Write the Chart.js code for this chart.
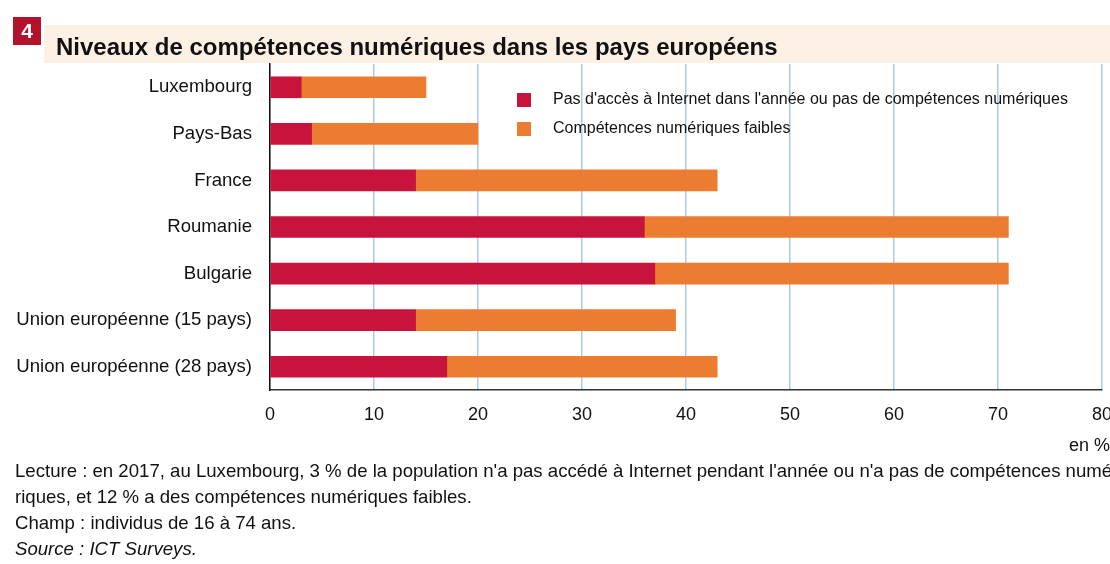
<!DOCTYPE html>
<html>
<head>
<meta charset="utf-8">
<script src="https://cdn.jsdelivr.net/npm/chart.js@4"></script>
<style>
  html, body { margin: 0; padding: 0; background: #fff; }
  #wrap { width: 1110px; height: 564px; position: relative; }
</style>
</head>
<body>
<div id="wrap"><canvas id="myChart" width="1110" height="564"></canvas></div>
<script>
// data (en %)
const countries = ['Luxembourg', 'Pays-Bas', 'France', 'Roumanie', 'Bulgarie',
  'Union européenne (15 pays)', 'Union européenne (28 pays)'];
const noAccess = [3, 4, 14, 36, 37, 14, 17];
const lowSkills = [12, 16, 29, 35, 34, 25, 26];
const xTicks = [0, 10, 20, 30, 40, 50, 60, 70, 80];
const seriesNames = [
  "Pas d'accès à Internet dans l'année ou pas de compétences numériques",
  'Compétences numériques faibles'
];
const titleText = 'Niveaux de compétences numériques dans les pays européens';
const noteLines = [
  "Lecture : en 2017, au Luxembourg, 3 % de la population n'a pas accédé à Internet pendant l'année ou n'a pas de compétences numé-",
  'riques, et 12 % a des compétences numériques faibles.',
  'Champ : individus de 16 à 74 ans.'
];
const sourceLine = 'Source : ICT Surveys.';

const RED = '#c8143c';
const ORANGE = '#ec7d30';
const FONT = '"Liberation Sans", Arial, sans-serif';

// title band, legend and footnotes drawn on the canvas
const decorations = {
  id: 'decorations',
  beforeDraw(chart) {
    const ctx = chart.ctx;
    ctx.save();
    ctx.fillStyle = '#fdf0e4';
    ctx.fillRect(44, 25, 1066, 38);
    ctx.restore();
  },
  afterDraw(chart) {
    const ctx = chart.ctx;
    ctx.save();
    // number box
    ctx.fillStyle = '#b3122d';
    ctx.fillRect(13, 17, 28, 28);
    ctx.fillStyle = '#fff';
    ctx.font = 'bold 21px ' + FONT;
    ctx.textAlign = 'center';
    ctx.textBaseline = 'middle';
    ctx.fillText('4', 27, 32);
    // title
    ctx.fillStyle = '#111';
    ctx.font = 'bold 24px ' + FONT;
    ctx.textAlign = 'left';
    ctx.textBaseline = 'alphabetic';
    ctx.fillText(titleText, 56, 55);

    // legend
    const colors = [RED, ORANGE];
    ctx.font = '16px ' + FONT;
    ctx.textBaseline = 'middle';
    seriesNames.forEach((name, i) => {
      const y = 100 + i * 29;
      ctx.fillStyle = colors[i];
      ctx.fillRect(517, y - 7, 14, 14);
      ctx.fillStyle = '#111';
      ctx.fillText(name, 553, y);
    });

    // unit
    ctx.font = '18px ' + FONT;
    ctx.textAlign = 'right';
    ctx.textBaseline = 'alphabetic';
    ctx.fillText('en %', 1110, 451);

    // notes
    ctx.font = '18.6px ' + FONT;
    ctx.textAlign = 'left';
    noteLines.forEach((line, i) => {
      ctx.fillText(line, 15, 477 + i * 26);
    });
    ctx.font = 'italic 18.6px ' + FONT;
    ctx.fillText(sourceLine, 15, 555);
    ctx.restore();
  }
};

const ctx = document.getElementById('myChart').getContext('2d');
window.myChart = new Chart(ctx, {
  type: 'bar',
  data: {
    labels: countries,
    datasets: [
      { label: seriesNames[0], data: noAccess, backgroundColor: RED, barThickness: 21 },
      { label: seriesNames[1], data: lowSkills, backgroundColor: ORANGE, barThickness: 21 }
    ]
  },
  options: {
    indexAxis: 'y',
    responsive: false,
    animation: false,
    layout: { padding: { top: 64, right: 8, left: 0, bottom: 0 } },
    plugins: {
      legend: { display: false },
      tooltip: { enabled: false }
    },
    scales: {
      x: {
        stacked: true,
        min: 0,
        max: 80,
        afterBuildTicks: (scale) => {
          scale.ticks = xTicks.map((v) => ({ value: v }));
        },
        afterFit: (scale) => {
          scale.height = 174;
          scale.paddingLeft = 0;
          scale.paddingRight = 0;
        },
        grid: { color: '#a9cbe8', lineWidth: 1.5, drawTicks: false },
        border: { color: '#333', width: 1.5 },
        ticks: {
          color: '#111',
          font: { family: FONT, size: 18 },
          padding: 14,
          maxRotation: 0
        }
      },
      y: {
        stacked: true,
        afterFit: (scale) => { scale.width = 270; },
        grid: { display: false, drawTicks: false },
        border: { color: '#111', width: 1.5 },
        ticks: {
          color: '#111',
          font: { family: FONT, size: 18.6 },
          padding: 18
        }
      }
    }
  },
  plugins: [decorations]
});
</script>
</body>
</html>
